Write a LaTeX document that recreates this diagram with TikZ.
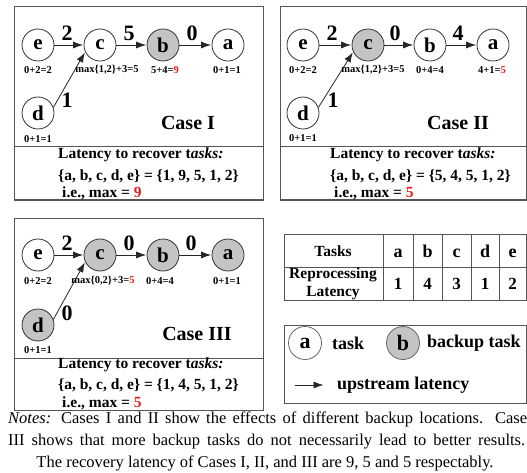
\documentclass[tikz,border=0pt]{standalone}
\usepackage{fontspec}
\setmainfont{Liberation Serif}
\usetikzlibrary{arrows.meta}
\definecolor{bkgray}{RGB}{196,196,196}
\definecolor{hired}{RGB}{232,28,28}
\definecolor{boxline}{RGB}{85,85,85}
\begin{document}
\begin{tikzpicture}[x=1pt,y=-1pt,
  task/.style={circle,draw=black!80,line width=0.8pt,minimum size=32pt,inner sep=0pt,font=\fontsize{21}{21}\selectfont\bfseries},
  backup/.style={task,fill=bkgray},
  edge/.style={-{Latex[length=10pt,width=7pt]},line width=0.8pt,black!85,shorten >=0.5pt},
  elabel/.style={font=\fontsize{22}{22}\selectfont\bfseries,inner sep=0pt},
  nlabel/.style={font=\fontsize{10.5}{11}\selectfont\bfseries,inner sep=0pt},
  casebox/.style={draw=boxline,line width=1pt},
  casetitle/.style={font=\fontsize{20}{20}\selectfont\bfseries,inner sep=0pt},
  lat/.style={font=\fontsize{15.5}{16}\selectfont\bfseries,anchor=west,inner sep=0pt},
  tabtxt/.style={font=\fontsize{15.5}{18}\selectfont\bfseries,inner sep=0pt,align=center},
  tabhead/.style={font=\fontsize{18}{18}\selectfont\bfseries,inner sep=0pt,anchor=base},
  tabnum/.style={font=\fontsize{17}{17}\selectfont\bfseries,inner sep=0pt,anchor=base},
  legtxt/.style={font=\fontsize{18}{18}\selectfont\bfseries,anchor=west,inner sep=0pt},
  captxt/.style={font=\fontsize{16.5}{17}\selectfont,inner sep=0pt},
]
\useasboundingbox (0,0) rectangle (527,473);

% ---------- Case I ----------
\draw[casebox] (14,7) rectangle (263,200);
\draw[casebox] (14,147) -- (263,147);
\node[task]   (e1) at (38,45)  {e};
\node[task]   (c1) at (100,45) {c};
\node[backup] (b1) at (163,45) {b};
\node[task]   (a1) at (228,45) {a};
\node[task]   (d1) at (38,113) {d};
\draw[edge] (e1) -- (c1);
\draw[edge] (c1) -- (b1);
\draw[edge] (b1) -- (a1);
\draw[edge] (d1.20) -- (c1.205);
\node[elabel] (l1a) at (67,33)  {2};
\node[elabel] (l1b) at (129,33) {5};
\node[elabel] (l1c) at (192,33) {0};
\node[elabel] (l1d) at (67,100) {1};
\node[nlabel] (n1e) at (38,70)  {0+2=2};
\node[nlabel] (n1c) at (107,70) {max\{1,2\}+3=5};
\node[nlabel] (n1b) at (165,70) {5+4=\textcolor{hired}{9}};
\node[nlabel] (n1a) at (227,70) {0+1=1};
\node[nlabel] (n1d) at (38,139) {0+1=1};
\node[casetitle] (t1) at (188,123) {Case I};
\node[lat] (r1a) at (58,155) {Latency to recover t\textit{asks:}};
\node[lat] (r1b) at (58,176) {\{a, b, c, d, e\} = \{1, 9, 5, 1, 2\}};
\node[lat] (r1c) at (62,193) {i.e., max = \textcolor{hired}{9}};

% ---------- Case II ----------
\draw[casebox] (280,7) rectangle (526,200);
\draw[casebox] (280,147) -- (526,147);
\node[task]   (e2) at (303,45) {e};
\node[backup] (c2) at (368,45) {c};
\node[task]   (b2) at (430,45) {b};
\node[task]   (a2) at (493,45) {a};
\node[task]   (d2) at (303,113) {d};
\draw[edge] (e2) -- (c2);
\draw[edge] (c2) -- (b2);
\draw[edge] (b2) -- (a2);
\draw[edge] (d2.20) -- (c2.205);
\node[elabel] (l2a) at (332,33)  {2};
\node[elabel] (l2b) at (395,33)  {0};
\node[elabel] (l2c) at (458,33)  {4};
\node[elabel] (l2d) at (333,100) {1};
\node[nlabel] (n2e) at (303,70) {0+2=2};
\node[nlabel] (n2c) at (373,70) {max\{1,2\}+3=5};
\node[nlabel] (n2b) at (430,70) {0+4=4};
\node[nlabel] (n2a) at (492,70) {4+1=\textcolor{hired}{5}};
\node[nlabel] (n2d) at (303,138) {0+1=1};
\node[casetitle] (t2) at (458,123) {Case II};
\node[lat] (r2a) at (330,155) {Latency to recover t\textit{asks:}};
\node[lat] (r2b) at (330,176) {\{a, b, c, d, e\} = \{5, 4, 5, 1, 2\}};
\node[lat] (r2c) at (334,193) {i.e., max = \textcolor{hired}{5}};

% ---------- Case III ----------
\draw[casebox] (14,218) rectangle (263,410);
\draw[casebox] (14,358) -- (263,358);
\node[task]   (e3) at (38,255)  {e};
\node[backup] (c3) at (100,255) {c};
\node[backup] (b3) at (163,255) {b};
\node[backup] (a3) at (228,255) {a};
\node[backup] (d3) at (38,325)  {d};
\draw[edge] (e3) -- (c3);
\draw[edge] (c3) -- (b3);
\draw[edge] (b3) -- (a3);
\draw[edge] (d3.20) -- (c3.205);
\node[elabel] (l3a) at (67,243)  {2};
\node[elabel] (l3b) at (129,243) {0};
\node[elabel] (l3c) at (191,243) {0};
\node[elabel] (l3d) at (67,313)  {0};
\node[nlabel] (n3e) at (38,281)  {0+2=2};
\node[nlabel] (n3c) at (103,281) {max\{0,2\}+3=\textcolor{hired}{5}};
\node[nlabel] (n3b) at (160,281) {0+4=4};
\node[nlabel] (n3a) at (227,281) {0+1=1};
\node[nlabel] (n3d) at (38,350)  {0+1=1};
\node[casetitle] (t3) at (197,334) {Case III};
\node[lat] (r3a) at (58,365) {Latency to recover t\textit{asks:}};
\node[lat] (r3b) at (58,385) {\{a, b, c, d, e\} = \{1, 4, 5, 1, 2\}};
\node[lat] (r3c) at (62,403) {i.e., max = \textcolor{hired}{5}};

% ---------- Table ----------
\draw[casebox] (284,234) rectangle (526,300);
\draw[casebox] (284,267) -- (526,267);
\foreach \xx in {383,413,442,471,499} \draw[casebox] (\xx,234) -- (\xx,300);
\node[tabtxt] (th) at (333,251) {Tasks};
\node[tabtxt] (tr) at (333,284) {Reprocessing\\Latency};
\node[tabhead] (ta) at (398,257.5) {a};
\node[tabhead] (tb) at (427.5,257.5) {b};
\node[tabhead] (tc) at (456.5,257.5) {c};
\node[tabhead] (td) at (485,257.5) {d};
\node[tabhead] (te) at (512.5,257.5) {e};
\node[tabnum] (va) at (398,289.5) {1};
\node[tabnum] (vb) at (427.5,289.5) {4};
\node[tabnum] (vc) at (456.5,289.5) {3};
\node[tabnum] (vd) at (485,289.5) {1};
\node[tabnum] (ve) at (512.5,289.5) {2};

% ---------- Legend ----------
\draw[casebox] (284,325) rectangle (526,403);
\node[task,minimum size=33pt,draw=black!60,font=\fontsize{22}{22}\selectfont\bfseries] (la) at (305,343) {a};
\node[legtxt] (lt) at (332,343) {task};
\node[backup,minimum size=33pt,draw=black!60,font=\fontsize{22}{22}\selectfont\bfseries] (lb) at (403,343) {b};
\node[legtxt] (lbt) at (427,343) {backup task};
\coordinate (ar1) at (295,385);
\coordinate (ar2) at (324,385);
\draw[edge] (ar1) -- (ar2);
\node[legtxt] (lu) at (337,385) {upstream latency};

% ---------- Caption ----------
\node[captxt,anchor=west] (cap1) at (8,419) {\makebox[519pt][s]{\textit{Notes:} Cases I and II show the effects of different backup locations. Case}};
\node[captxt,anchor=west] (cap2) at (8,442) {\makebox[517pt][s]{III shows that more backup tasks do not necessarily lead to better results.}};
\node[captxt] (cap3) at (265,463) {The recovery latency of Cases I, II, and III are 9, 5 and 5 respectably.};
\end{tikzpicture}
\end{document}
